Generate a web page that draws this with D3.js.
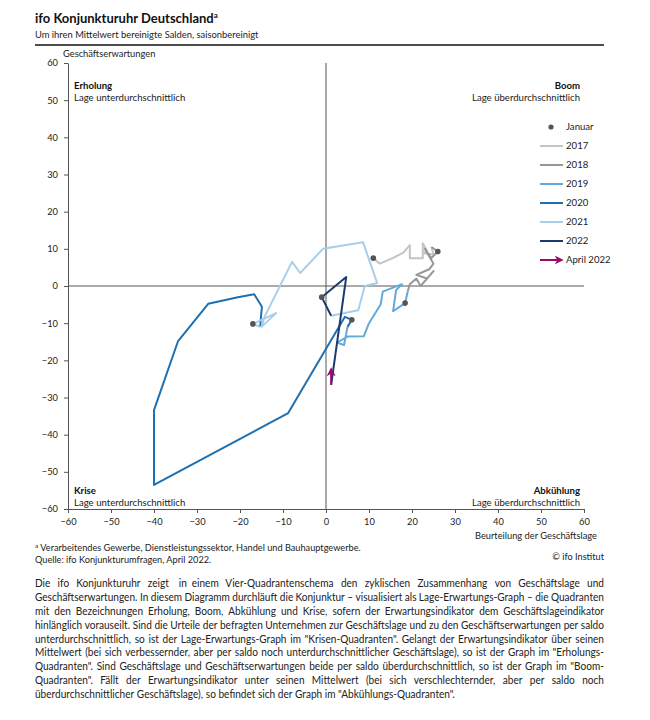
<!DOCTYPE html>
<html><head><meta charset="utf-8">
<script src="https://cdn.jsdelivr.net/npm/d3@7"></script>
<style>
body{margin:0;background:#fff;}
svg{display:block;font-family:Lato,"Open Sans",sans-serif;}
</style></head>
<body>
<svg id="chart" width="650" height="720"></svg>
<script>
// ---- data: [Beurteilung der Geschäftslage, Geschäftserwartungen] monthly, Jan..Dec
const years = ["2017","2018","2019","2020","2021","2022"];
const s2017 = [[11,7.5],[12.5,6],[15.5,7.5],[18,9],[19.5,11],[19.5,7.5],[22.5,7.5],[22.5,11.5],[23.5,9.5],[22.5,8.8],[25,8.5],[24.5,10.5]];
const s2018 = [[26,9.3],[24.5,7.5],[23,10],[25,6],[24,4.5],[21,3],[23.5,2],[25,4],[22,0],[21,2],[19.5,0.5],[19,-1.5]];
const s2019 = [[18.4,-4.6],[15.6,-6.8],[16.3,-1.1],[17.7,0.5],[13.2,-1.5],[12.7,-5],[10,-10],[8.8,-13.5],[5,-13.6],[2.6,-15.2],[4.2,-15.9],[5,-11]];
const s2020 = [[6,-9.1],[4.4,-8.3],[-8.8,-34.2],[-40,-53.5],[-40,-33.4],[-34.4,-14.8],[-27.4,-4.8],[-20.5,-3],[-16.7,-2.2],[-14.9,-5.6],[-15.1,-8],[-15.3,-11]];
const s2021 = [[-17,-10.2],[-11.6,-7.3],[-15,-11],[-14.3,-8.3],[-7.9,6.5],[-6,3.5],[-0.7,10],[8.6,11.8],[11.9,0.8],[9,0],[7.5,-6.5],[1.2,-8]];
const s2022 = [[-1,-3],[4.7,2.4],[1.2,-26.6]];
const april2022 = [[1.2,-26.6],[1.2,-22.6]];
const seriesColors = ["#c4c4c4","#979797","#64a9d8","#1f70b0","#a8cfe9","#1b3a6e"];
const arrowColor = "#9a0a6b";
const ticks = [-60,-50,-40,-30,-20,-10,0,10,20,30,40,50,60];
const quadrants = [
  {name:"Erholung", sub:"Lage unterdurchschnittlich", side:"left", top:true},
  {name:"Boom", sub:"Lage überdurchschnittlich", side:"right", top:true},
  {name:"Krise", sub:"Lage unterdurchschnittlich", side:"left", top:false},
  {name:"Abkühlung", sub:"Lage überdurchschnittlich", side:"right", top:false}
];
const paragraph = [
 "Die ifo Konjunkturuhr zeigt in einem Vier-Quadrantenschema den zyklischen Zusammenhang von Geschäftslage und",
 "Geschäftserwartungen. In diesem Diagramm durchläuft die Konjunktur – visualisiert als Lage-Erwartungs-Graph – die Quadranten",
 "mit den Bezeichnungen Erholung, Boom, Abkühlung und Krise, sofern der Erwartungsindikator dem Geschäftslageindikator",
 "hinlänglich vorauseilt. Sind die Urteile der befragten Unternehmen zur Geschäftslage und zu den Geschäftserwartungen per saldo",
 "unterdurchschnittlich, so ist der Lage-Erwartungs-Graph im \"Krisen-Quadranten\". Gelangt der Erwartungsindikator über seinen",
 "Mittelwert (bei sich verbessernder, aber per saldo noch unterdurchschnittlicher Geschäftslage), so ist der Graph im \"Erholungs-",
 "Quadranten\". Sind Geschäftslage und Geschäftserwartungen beide per saldo überdurchschnittlich, so ist der Graph im \"Boom-",
 "Quadranten\". Fällt der Erwartungsindikator unter seinen Mittelwert (bei sich verschlechternder, aber per saldo noch",
 "überdurchschnittlicher Geschäftslage), so befindet sich der Graph im \"Abkühlungs-Quadranten\"."
];

const allSeries = [s2017,s2018,s2019,s2020,s2021,s2022];
const svg = d3.select("#chart");
const x = d3.scaleLinear().domain([-60,60]).range([68,584]);
const y = d3.scaleLinear().domain([-60,60]).range([509,63]);
const txt = "#222";

// title
const t = svg.append("text").attr("x",35).attr("y",23).attr("font-size",13).attr("font-weight",700).attr("fill","#111");
t.append("tspan").text("ifo Konjunkturuhr Deutschland");
t.append("tspan").attr("font-size",8).attr("dy",-5).text("a");
svg.append("text").attr("x",35).attr("y",38).attr("font-size",9.4).attr("fill",txt).text("Um ihren Mittelwert bereinigte Salden, saisonbereinigt");
svg.append("line").attr("x1",35).attr("x2",604).attr("y1",45).attr("y2",45).attr("stroke","#111").attr("stroke-width",1.5);

svg.append("text").attr("x",63).attr("y",57).attr("font-size",9.3).attr("fill",txt).text("Geschäftserwartungen");

// axes
const ax = svg.append("g").attr("transform",`translate(0,${y(-60)})`)
  .call(d3.axisBottom(x).tickValues(ticks).tickSize(4).tickSizeOuter(0).tickPadding(5));
const ay = svg.append("g").attr("transform",`translate(${x(-60)},0)`)
  .call(d3.axisLeft(y).tickValues(ticks).tickSize(4).tickSizeOuter(0).tickPadding(6));
[ax,ay].forEach(g=>{
  g.selectAll("path,line").attr("stroke","#555");
  g.selectAll("text").attr("font-size",9.3).attr("fill",txt).attr("font-family","Lato, sans-serif");
});

// center cross
svg.append("line").attr("x1",x(0)).attr("x2",x(0)).attr("y1",y(60)).attr("y2",y(-60)).attr("stroke","#555").attr("stroke-width",1);
svg.append("line").attr("x1",x(-60)).attr("x2",x(60)).attr("y1",y(0)).attr("y2",y(0)).attr("stroke","#555").attr("stroke-width",1);

svg.append("text").attr("x",597).attr("y",539).attr("text-anchor","end").attr("font-size",9.3).attr("fill",txt).text("Beurteilung der Geschäftslage");

// quadrant labels
quadrants.forEach(q=>{
  const xx = q.side==="left" ? x(-60)+6 : x(60)-4;
  const anchor = q.side==="left" ? "start" : "end";
  const y0 = q.top ? y(60)+26 : y(-60)-15;
  svg.append("text").attr("x",xx).attr("y",y0).attr("text-anchor",anchor).attr("font-size",9.6).attr("font-weight",700).attr("fill","#111").text(q.name);
  svg.append("text").attr("x",xx).attr("y",y0+12).attr("text-anchor",anchor).attr("font-size",9.6).attr("fill",txt).text(q.sub);
});

// series lines (each year connected from previous December)
const line = d3.line().x(d=>x(d[0])).y(d=>y(d[1]));
const g = svg.append("g").attr("fill","none").attr("stroke-width",2).attr("stroke-linejoin","round");
allSeries.forEach((s,i)=>{
  const pts = i>0 ? [allSeries[i-1][allSeries[i-1].length-1], ...s] : s;
  g.append("path").attr("d",line(pts)).attr("stroke",seriesColors[i]);
});

// arrow marker
const defs = svg.append("defs");
defs.append("marker").attr("id","arr").attr("viewBox","0 0 10 10").attr("refX",7).attr("refY",5)
  .attr("markerWidth",4.5).attr("markerHeight",4.5).attr("orient","auto").attr("markerUnits","strokeWidth")
  .append("path").attr("d","M0,0 L10,5 L0,10 L3,5 Z").attr("fill",arrowColor);
svg.append("path").attr("d",line(april2022)).attr("stroke",arrowColor).attr("stroke-width",2).attr("fill","none").attr("marker-end","url(#arr)");

// January dots
svg.append("g").selectAll("circle").data(allSeries.map(s=>s[0])).join("circle")
  .attr("cx",d=>x(d[0])).attr("cy",d=>y(d[1])).attr("r",2.8).attr("fill","#555");

// legend
const lx = 540, ly = 130, lstep = 19;
const leg = svg.append("g");
leg.append("circle").attr("cx",lx+11).attr("cy",ly-3).attr("r",2.6).attr("fill","#555");
leg.append("text").attr("x",lx+26).attr("y",ly).attr("font-size",9.6).attr("fill",txt).text("Januar");
years.forEach((yr,i)=>{
  const yy = ly + (i+1)*lstep;
  leg.append("line").attr("x1",lx).attr("x2",lx+23).attr("y1",yy-3).attr("y2",yy-3).attr("stroke",seriesColors[i]).attr("stroke-width",2);
  leg.append("text").attr("x",lx+26).attr("y",yy).attr("font-size",9.6).attr("fill",txt).text(yr);
});
{
  const yy = ly + 7*lstep;
  leg.append("line").attr("x1",lx).attr("x2",lx+21).attr("y1",yy-3).attr("y2",yy-3).attr("stroke",arrowColor).attr("stroke-width",2).attr("marker-end","url(#arr)");
  leg.append("text").attr("x",lx+26).attr("y",yy).attr("font-size",9.6).attr("fill",txt).text("April 2022");
}

// footnotes
const f1 = svg.append("text").attr("x",35).attr("y",551).attr("font-size",9.2).attr("fill",txt);
f1.append("tspan").attr("font-size",6.5).attr("dy",-3).text("a");
f1.append("tspan").attr("dy",3).text(" Verarbeitendes Gewerbe, Dienstleistungssektor, Handel und Bauhauptgewerbe.");
svg.append("text").attr("x",35).attr("y",563).attr("font-size",9.2).attr("fill",txt).text("Quelle: ifo Konjunkturumfragen, April 2022.");
svg.append("text").attr("x",604).attr("y",560).attr("text-anchor","end").attr("font-size",9.2).attr("fill",txt).text("© ifo Institut");

// paragraph (justified, horizontally condensed like the original narrow face)
const px0 = 35, pw = 569, py0 = 587, pstep = 13.9, pfs = 10.5;
const pg = svg.append("g");
const rows = paragraph.map((ln,i)=>{
  const words = ln.split(" ");
  const tEl = pg.append("text").attr("y",py0+i*pstep).attr("font-size",pfs).attr("fill",txt);
  const spans = words.map(w=>tEl.append("tspan").text(w));
  const widths = spans.map(s=>s.node().getComputedTextLength());
  return {words, spans, widths, total:d3.sum(widths), last:i===paragraph.length-1};
});
const sx = Math.min(1, d3.min(rows.filter(r=>!r.last), r=>(pw - 2.4*(r.words.length-1))/r.total));
pg.attr("transform",`translate(${px0},0) scale(${sx},1)`);
const W = pw/sx;
rows.forEach(r=>{
  const gap = r.last ? 2.6/sx : (W-r.total)/(r.words.length-1);
  let cx = 0;
  r.spans.forEach((s,k)=>{ s.attr("x",cx); cx += r.widths[k]+gap; });
});
</script>
</body></html>
